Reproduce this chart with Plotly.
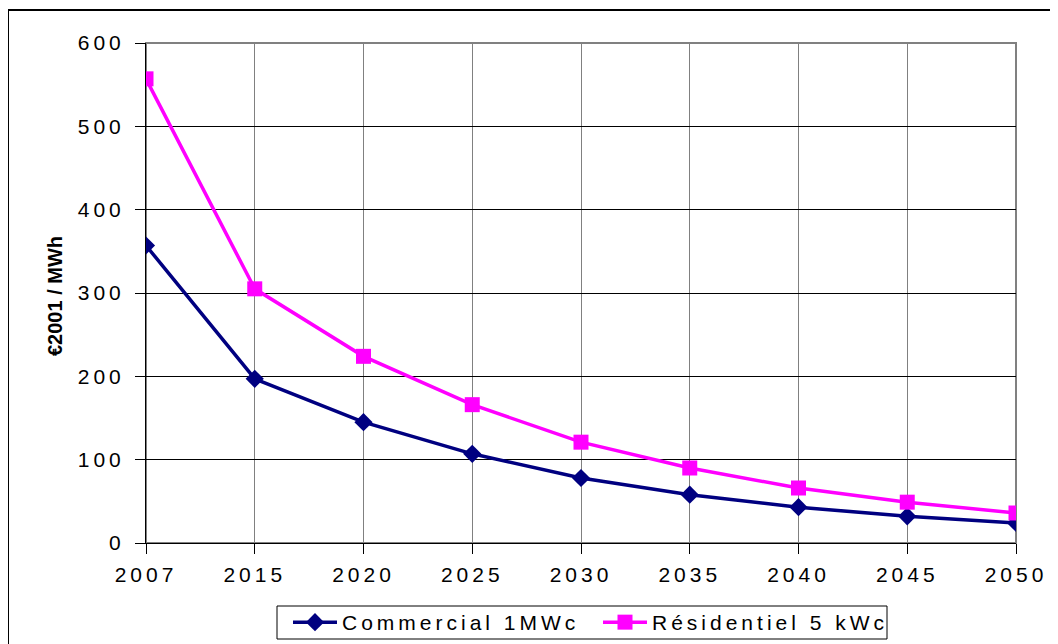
import plotly.graph_objects as go

years = ["2007", "2015", "2020", "2025", "2030", "2035", "2040", "2045", "2050"]
commercial = [357, 197, 145, 107, 78, 58, 43, 32, 24]
residentiel = [557, 305, 224, 166, 121, 90, 66, 49, 36]

fig = go.Figure()
fig.add_trace(go.Scatter(
    x=years, y=commercial, name="Commercial 1MWc", mode="lines+markers",
    line=dict(color="#000080", width=3.5),
    marker=dict(symbol="diamond", size=14, color="#000080"),
    legend="legend",
))
fig.add_trace(go.Scatter(
    x=years, y=residentiel, name="Résidentiel 5 kWc", mode="lines+markers",
    line=dict(color="#FF00FF", width=3.5),
    marker=dict(symbol="square", size=15, color="#FF00FF"),
    legend="legend2",
))

# page body has an 8px margin: figure coords = screen coords - 8
L, T, R, B = 138, 35, 1008, 535
W, H = 1058, 644

def px(x):
    return (x - L) / (R - L)

def py(y):
    return (B - y) / (B - T)

leg_common = dict(
    orientation="h", yanchor="top", xanchor="left",
    borderwidth=0, bgcolor="rgba(0,0,0,0)",
    font=dict(size=21), itemwidth=44,
)

fig.update_layout(
    width=W, height=H,
    paper_bgcolor="white", plot_bgcolor="white",
    margin=dict(l=L, r=W - R, t=T, b=H - B, autoexpand=False),
    font=dict(family="Liberation Sans, Arial", size=21, color="black"),
    showlegend=True,
    legend=dict(x=px(280), y=py(594), **leg_common),
    legend2=dict(x=px(590), y=py(594), **leg_common),
    xaxis=dict(
        type="category", range=[0, 8], showgrid=True, gridcolor="#808080",
        gridwidth=1, ticks="outside", ticklen=10, tickcolor="black",
        showline=True, linecolor="black", linewidth=1, zeroline=False,
        tickfont=dict(size=21), automargin=False, ticklabelstandoff=3,
    ),
    yaxis=dict(
        range=[0, 600], dtick=100, showgrid=True, gridcolor="black",
        gridwidth=1, ticks="outside", ticklen=10, tickcolor="black",
        showline=True, linecolor="black", linewidth=1, zeroline=False,
        tickfont=dict(size=21), automargin=False, ticklabelstandoff=6,
    ),
    annotations=[dict(
        text="<b>€2001 / MWh</b>", xref="paper", yref="paper",
        x=px(47), y=py(288), textangle=-90, showarrow=False,
        font=dict(size=20, color="black"), xanchor="center", yanchor="middle",
    )],
    shapes=[
        dict(type="rect", xref="paper", yref="paper",
             x0=px(0), x1=px(1100), y0=py(700), y1=py(2),
             line=dict(color="black", width=2)),
        dict(type="rect", xref="paper", yref="paper",
             x0=0, x1=1, y0=0, y1=1, layer="below",
             line=dict(color="#808080", width=2)),
        dict(type="rect", xref="paper", yref="paper",
             x0=px(269), x1=px(879), y0=py(631), y1=py(598),
             line=dict(color="black", width=1), fillcolor="rgba(0,0,0,0)"),
    ],
)

post_script = """
var st = document.createElement('style');
st.textContent = '.xtick text, .ytick text { letter-spacing: 4px; } '
  + '.infolayer g[class^="legend"] text, .legendtext, .legendtext tspan { letter-spacing: 4px !important; } '
  + '.infolayer g[class^="legend"] * { clip-path: none !important; }';
document.head.appendChild(st);
"""

fig.write_html("out.html", post_script=post_script)
